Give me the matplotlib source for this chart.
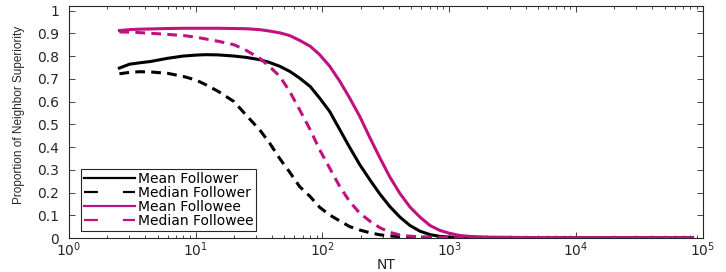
import matplotlib
matplotlib.use("Agg")
import matplotlib.pyplot as plt
from matplotlib.lines import Line2D
from matplotlib.ticker import LogLocator

# values
nt = [2.5, 3, 3.6, 4.4, 6, 8, 10, 12, 15, 20, 25, 32, 38, 46, 55, 66, 80, 95, 114,
      137, 164, 197, 237, 284, 340, 408, 490, 587, 705, 846, 1000, 1210, 1450, 2000,
      3000, 5000, 10000, 30000, 83000]
mean_followee = [0.912, 0.916, 0.918, 0.919, 0.921, 0.922, 0.922, 0.922, 0.922, 0.921,
                 0.92, 0.916, 0.91, 0.902, 0.89, 0.869, 0.843, 0.806, 0.755, 0.689,
                 0.615, 0.534, 0.44, 0.352, 0.268, 0.196, 0.136, 0.092, 0.055, 0.033,
                 0.021, 0.011, 0.007, 0.004, 0.003, 0.002, 0.001, 0.001, 0.001]
mean_follower = [0.747, 0.764, 0.77, 0.776, 0.79, 0.80, 0.804, 0.806, 0.805, 0.80,
                 0.794, 0.784, 0.772, 0.755, 0.733, 0.703, 0.666, 0.615, 0.556, 0.476,
                 0.398, 0.322, 0.255, 0.193, 0.138, 0.092, 0.055, 0.03, 0.015, 0.007,
                 0.004, 0.003, 0.002, 0.002, 0.001, 0.001, 0.001, 0.001, 0.001]
median_followee = [0.906, 0.905, 0.903, 0.90, 0.895, 0.89, 0.883, 0.875, 0.865, 0.85,
                   0.825, 0.79, 0.755, 0.711, 0.645, 0.564, 0.476, 0.388, 0.307, 0.226,
                   0.16, 0.109, 0.074, 0.045, 0.025, 0.013, 0.008, 0.005, 0.004, 0.003,
                   0.002, 0.002, 0.002, 0.001, 0.001, 0.001, 0.001, 0.001, 0.001]
median_follower = [0.722, 0.728, 0.731, 0.73, 0.724, 0.71, 0.695, 0.674, 0.645, 0.60,
                   0.54, 0.475, 0.42, 0.349, 0.29, 0.226, 0.182, 0.135, 0.101, 0.075,
                   0.05, 0.035, 0.023, 0.014, 0.009, 0.006, 0.004, 0.003, 0.002, 0.002,
                   0.002, 0.001, 0.001, 0.001, 0.001, 0.001, 0.001, 0.001, 0.001]
labels = ["Mean Follower", "Median Follower", "Mean Followee", "Median Followee"]
yticks = [0, 0.1, 0.2, 0.3, 0.4, 0.5, 0.6, 0.7, 0.8, 0.9, 1]
ytick_labels = ["0", "0.1", "0.2", "0.3", "0.4", "0.5", "0.6", "0.7", "0.8", "0.9", "1"]

mag = "#C0127F"
txt = "#262626"
plt.rcParams["font.family"] = ["DejaVu Sans"]
plt.rcParams["lines.scale_dashes"] = False

fig = plt.figure(figsize=(7.26, 2.72), dpi=100)
ax = fig.add_axes([0.095, 0.125, 0.873, 0.853])

lw = 2.2
dash = (7, 4.5)
ax.plot(nt, mean_follower, color="k", lw=lw)
ax.plot(nt, median_follower, color="k", lw=lw, dashes=dash)
ax.plot(nt, mean_followee, color=mag, lw=lw)
ax.plot(nt, median_followee, color=mag, lw=lw, dashes=dash)

ax.set_xscale("log")
ax.set_xlim(1, 1e5)
ax.set_ylim(0, 1.02)
ax.set_yticks(yticks)
ax.set_yticklabels(ytick_labels)
ax.xaxis.set_major_locator(LogLocator(base=10, numticks=10))
ax.xaxis.set_minor_locator(LogLocator(base=10, subs=range(2, 10), numticks=20))

ax.tick_params(which="both", direction="in", top=True, right=True,
               labelsize=10, colors=txt, width=0.6)
ax.tick_params(which="major", length=4)
ax.tick_params(which="minor", length=2)
ax.tick_params(axis="x", pad=2)
ax.tick_params(axis="y", pad=7)
for s in ax.spines.values():
    s.set_color(txt)
    s.set_linewidth(0.8)

ax.set_xlabel("NT", fontsize=10, color=txt)
ax.xaxis.set_label_coords(0.5, -0.085)
ax.set_ylabel("Proportion of Neighbor Superiority", fontsize=8.5, color=txt,
              family=["Liberation Sans Narrow", "Liberation Sans"])
ax.yaxis.set_label_coords(-0.07, 0.53)

handles = [Line2D([], [], color="k", lw=1.6),
           Line2D([], [], color="k", lw=1.6, dashes=(10, 18)),
           Line2D([], [], color=mag, lw=1.6),
           Line2D([], [], color=mag, lw=1.6, dashes=(10, 18))]
leg = ax.legend(handles, labels, loc="lower left", bbox_to_anchor=(0.019, 0.03),
                fontsize=10, handlelength=3.7, handletextpad=0.2, labelspacing=0.0,
                borderpad=0.2, borderaxespad=0, fancybox=False, framealpha=1)
leg.get_frame().set_edgecolor(txt)
leg.get_frame().set_linewidth(0.8)

fig.savefig("out.png", dpi=100)
